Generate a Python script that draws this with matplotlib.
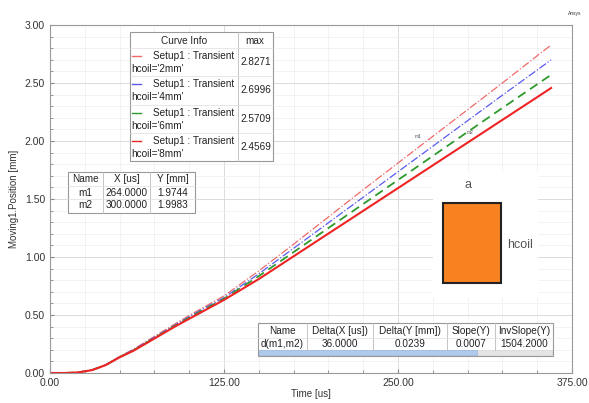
import numpy as np
import matplotlib.pyplot as plt
from matplotlib.patches import Rectangle
from matplotlib.ticker import MultipleLocator

plt.rcParams['font.family'] = ['Liberation Sans', 'DejaVu Sans']

# data
time_us = [0, 10, 20, 30, 40, 50, 60, 75, 90, 105, 125, 150, 175, 200, 225, 250, 275, 300, 325, 350, 360]
pos_2mm = [0, 0, 0.005, 0.025, 0.072, 0.142, 0.205, 0.315, 0.425, 0.53, 0.665, 0.88, 1.11, 1.345, 1.58, 1.81, 2.04, 2.27, 2.50, 2.735, 2.8271]
pos_4mm = [0, 0, 0.005, 0.025, 0.070, 0.139, 0.200, 0.308, 0.415, 0.52, 0.650, 0.855, 1.075, 1.295, 1.515, 1.735, 1.955, 2.175, 2.395, 2.612, 2.6996]
pos_6mm = [0, 0, 0.005, 0.025, 0.069, 0.137, 0.196, 0.302, 0.408, 0.51, 0.640, 0.835, 1.042, 1.250, 1.457, 1.664, 1.871, 2.078, 2.285, 2.489, 2.5709]
pos_8mm = [0, 0, 0.005, 0.024, 0.068, 0.135, 0.192, 0.297, 0.402, 0.50, 0.630, 0.810, 1.006, 1.202, 1.398, 1.594, 1.790, 1.986, 2.182, 2.378, 2.4569]
curve_names = ["hcoil='2mm'", "hcoil='4mm'", "hcoil='6mm'", "hcoil='8mm'"]
curve_max = ["2.8271", "2.6996", "2.5709", "2.4569"]

marker_cols = ["Name", "X [us]", "Y [mm]"]
marker_rows = [["m1", "264.0000", "1.9744"], ["m2", "300.0000", "1.9983"]]
delta_cols = ["Name", "Delta(X [us])", "Delta(Y [mm])", "Slope(Y)", "InvSlope(Y)"]
delta_row = ["d(m1,m2)", "36.0000", "0.0239", "0.0007", "1504.2000"]

styles = [dict(color='#f06a6a', lw=0.9, ls='-.'),
          dict(color='#5a5af0', lw=0.9, ls='-.'),
          dict(color='#2e9a2e', lw=1.3, ls=(0, (5, 3))),
          dict(color='#ee2424', lw=1.5, ls='-')]

fig = plt.figure(figsize=(5.89, 4.03), dpi=100)
ax = fig.add_axes([50/589, 30/403, 522/589, 348/403])
for ys, st in zip([pos_2mm, pos_4mm, pos_6mm, pos_8mm], styles):
    ax.plot(time_us, ys, **st)

ax.set_xlim(0, 375)
ax.set_ylim(0, 3)
ax.xaxis.set_major_locator(MultipleLocator(125))
ax.xaxis.set_minor_locator(MultipleLocator(25))
ax.yaxis.set_major_locator(MultipleLocator(0.5))
ax.yaxis.set_minor_locator(MultipleLocator(0.1))
ax.xaxis.set_major_formatter(lambda v, p: '%.2f' % v)
ax.yaxis.set_major_formatter(lambda v, p: '%.2f' % v)
ax.grid(which='major', color='#d6d6d6', lw=0.6)
ax.grid(which='minor', color='#efefef', lw=0.5)
ax.tick_params(which='both', direction='in', colors='#888888', labelcolor='#333333', labelsize=7.5, length=3)
ax.tick_params(which='minor', length=2)
for s in ax.spines.values():
    s.set_color('#999999')
    s.set_linewidth(0.8)
ax.set_xlabel('Time [us]', fontsize=7, color='#333333', labelpad=1)
ax.set_ylabel('Moving1.Position [mm]', fontsize=7, color='#333333', labelpad=4)

# overlay in pixel coordinates for the tables and inset
ov = fig.add_axes([0, 0, 1, 1], zorder=5)
ov.set_xlim(0, 589)
ov.set_ylim(403, 0)
ov.axis('off')
ov.patch.set_alpha(0)

def box(x0, y0, x1, y1, fc='white', ec='#999999', lw=0.8):
    ov.add_patch(Rectangle((x0, y0), x1 - x0, y1 - y0, fc=fc, ec=ec, lw=lw))

fs = 7.2
tc = '#222222'

# curve info table
box(130, 32, 273, 161)
ov.plot([238, 238], [32, 161], color='#bbbbbb', lw=0.6)
ov.text(184, 41, 'Curve Info', ha='center', va='center', fontsize=fs, color=tc)
ov.text(255, 41, 'max', ha='center', va='center', fontsize=fs, color=tc)
for i in range(4):
    top = 48 + i * 28.3
    ov.plot([130, 273], [top, top], color='#dddddd', lw=0.5)
    ov.plot([132, 141], [top + 8, top + 8], color=styles[i]['color'], lw=1)
    ov.text(194, top + 8, 'Setup1 : Transient', ha='center', va='center', fontsize=fs, color=tc)
    ov.text(131, top + 21, curve_names[i], ha='left', va='center', fontsize=fs, color=tc)
    ov.text(256, top + 14, curve_max[i], ha='center', va='center', fontsize=fs, color=tc)

# marker table
box(68, 172, 195, 213)
for xv in [103, 150]:
    ov.plot([xv, xv], [172, 213], color='#bbbbbb', lw=0.6)
for yv in [186, 199]:
    ov.plot([68, 195], [yv, yv], color='#dddddd', lw=0.5)
mx = [85.5, 126.5, 172.5]
for j, c in enumerate(marker_cols):
    ov.text(mx[j], 179, c, ha='center', va='center', fontsize=fs, color=tc)
for i, row in enumerate(marker_rows):
    for j, c in enumerate(row):
        ov.text(mx[j], 192.5 + i * 13, c, ha='center', va='center', fontsize=fs, color=tc)

# delta table
box(258, 323, 553, 356)
for xv in [307, 373, 447, 495]:
    ov.plot([xv, xv], [323, 350], color='#bbbbbb', lw=0.6)
ov.plot([258, 553], [338, 338], color='#dddddd', lw=0.5)
box(259, 350, 552, 355, fc='#e4e4e4', ec='#cccccc', lw=0.4)
box(259, 350, 477, 355, fc='#aecbec', ec='#8fb0da', lw=0.4)
dx = [282.5, 340, 410, 471, 524]
for j, c in enumerate(delta_cols):
    ov.text(dx[j], 330.5, c, ha='center', va='center', fontsize=fs, color=tc)
    ov.text(dx[j], 344, delta_row[j], ha='center', va='center', fontsize=fs, color=tc)

# inset sketch of the coil
box(433, 172, 538, 298, ec='none')
ov.text(468, 185, 'a', ha='center', va='center', fontsize=9, color='#555555')
box(443, 203, 501, 283, fc='#f7821f', ec='#222222', lw=1.5)
ov.text(507, 245, 'hcoil', ha='left', va='center', fontsize=9, color='#555555')

# marker labels on the curves
ov.text(418, 137, 'm1', ha='center', va='center', fontsize=3.5, color='#555555')
ov.text(470, 133, 'm2', ha='center', va='center', fontsize=3.5, color='#555555')
ov.text(575, 13, 'Ansys', ha='center', va='center', fontsize=3.5, color='#333333')

fig.savefig('out.png', dpi=100)
